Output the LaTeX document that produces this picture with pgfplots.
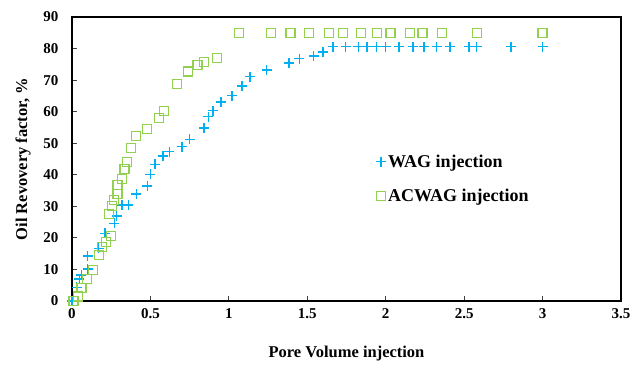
\documentclass[border=0pt]{standalone}
\usepackage{fontspec}
\setmainfont{Liberation Serif}
\usepackage{pgfplots}
\pgfplotsset{compat=1.18}
\definecolor{wagblue}{HTML}{00B0F0}
\definecolor{acgreen}{HTML}{92D050}
\begin{document}
\begin{tikzpicture}
\path[use as bounding box] (-72pt,-65pt) rectangle (567pt,301pt);
\begin{axis}[
  at={(0pt,0pt)}, anchor=south west,
  scale only axis, width=549pt, height=284pt,
  xmin=0, xmax=3.5, ymin=0, ymax=90,
  xtick={0,0.5,...,3.5}, ytick={0,10,...,90},
  xticklabels={0,0.5,1,1.5,2,2.5,3,3.5},
  tick align=inside, xtick pos=bottom, ytick pos=left,
  major tick length=5pt,
  tick style={black!75, line width=0.8pt},
  axis line style={black, line width=1.2pt},
  /pgf/number format/assume math mode=true,
  ticklabel style={font=\fontsize{15}{17}\selectfont\bfseries},
  xticklabel style={yshift=-4pt},
  yticklabel style={xshift=-10pt},
  xlabel={Pore Volume injection},
  ylabel={Oil Revovery factor, \%},
  label style={font=\fontsize{16.5}{20}\selectfont\bfseries},
  xlabel style={yshift=-20pt},
  ylabel style={yshift=6pt},
  legend style={draw=none, fill=none, at={(0.548,0.53)}, anchor=north west,
    font=\fontsize{18}{20}\selectfont\bfseries, row sep=16pt},
  legend cell align=left,
  clip=false,
]
\addplot[only marks, mark=+, mark size=5pt, draw=wagblue, color=wagblue, line width=1.5pt,
  mark options={draw=wagblue, solid}] coordinates {
(0,0) (0.03,4.3) (0.047,6.9) (0.06,8.2) (0.1,10.1) (0.1,14.3) (0.17,16.7)
(0.21,21.4) (0.27,24.6) (0.285,27) (0.32,30.4) (0.36,30.4) (0.41,33.9)
(0.48,36.4) (0.50,40.1) (0.53,43.3) (0.58,45.9) (0.62,47.3) (0.70,48.9)
(0.75,51.2) (0.84,54.9) (0.87,58.4) (0.90,60.3) (0.95,63.0) (1.02,65.1)
(1.085,68.2) (1.135,71.1) (1.24,73.2) (1.383,75.5) (1.45,76.8) (1.54,77.7)
(1.60,78.9) (1.665,80.6) (1.745,80.6) (1.825,80.6) (1.88,80.6) (1.94,80.6)
(2.0,80.6) (2.085,80.6) (2.175,80.6) (2.245,80.6) (2.325,80.6) (2.41,80.6)
(2.53,80.6) (2.58,80.6) (2.80,80.6) (3.00,80.6)
};
\addlegendentry{WAG injection}
\addplot[only marks, mark=square, mark size=4.5pt, draw=acgreen, color=acgreen, line width=1.2pt,
  mark options={draw=acgreen, solid}] coordinates {
(0.01,0.1) (0.036,1.4) (0.06,4) (0.094,6.9) (0.136,9.8) (0.17,14.6)
(0.19,17.2) (0.215,18.8) (0.25,20.6) (0.236,27.6) (0.253,30.1) (0.268,32)
(0.29,33.9) (0.29,36.8) (0.32,38.6) (0.335,41.8) (0.352,44.1) (0.376,48.4)
(0.41,52.3) (0.476,54.4) (0.556,58.1) (0.586,60.3) (0.667,68.7) (0.741,72.7)
(0.80,74.8) (0.84,75.8) (0.926,76.9) (1.064,85) (1.268,85) (1.393,85)
(1.513,85) (1.638,85) (1.73,85) (1.84,85) (1.944,85) (2.03,85) (2.154,85)
(2.235,85) (2.36,85) (2.58,85) (3.00,85)
};
\addlegendentry{ACWAG injection}
\end{axis}
\end{tikzpicture}
\end{document}
